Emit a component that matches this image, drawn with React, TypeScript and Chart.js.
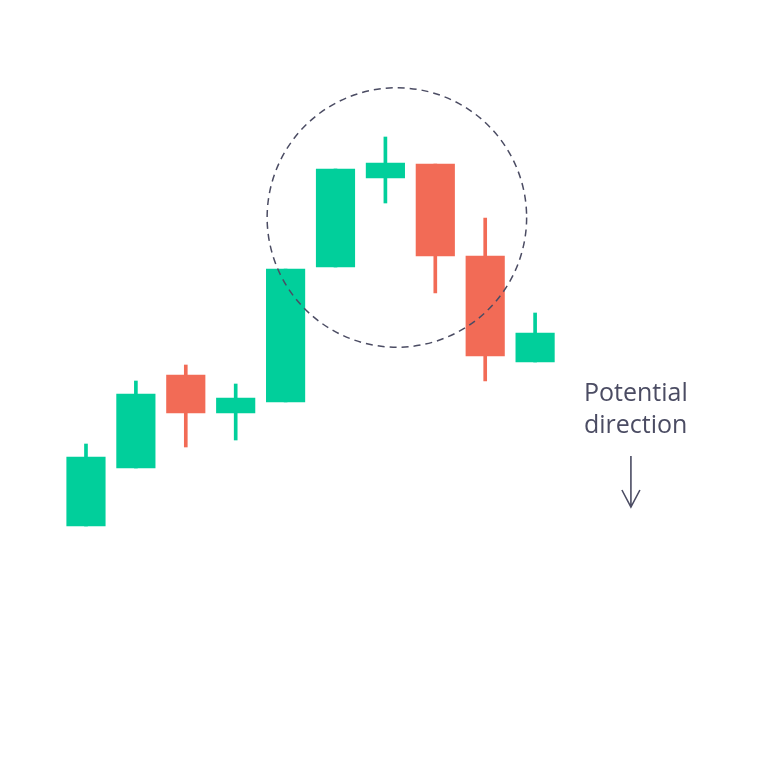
import { useEffect, useRef } from "react";
import { Chart, ChartConfiguration, Plugin, registerables } from "chart.js";

Chart.register(...registerables);

// candle index and OHLC prices
const candles = [0, 1, 2, 3, 4, 5, 6, 7, 8, 9];
const opens = [24.2, 30.0, 39.3, 35.5, 36.6, 50.1, 59.0, 60.4, 51.2, 40.6];
const closes = [31.1, 37.4, 35.5, 37.0, 49.9, 59.9, 60.5, 51.2, 41.2, 43.5];
const highs = [32.4, 38.7, 40.3, 38.4, 49.9, 59.9, 63.1, 60.4, 55.0, 45.5];
const lows = [24.2, 30.0, 32.1, 32.8, 36.6, 50.1, 56.5, 47.5, 38.7, 40.6];

// annotations in data units
const circleCenter = { x: 6.23, y: 55.05 };
const circleRadius = 2.6; // in x units
const labelLines = ["Potential", "direction"];
const labelAnchor = { x: 9.98, y: [36.7, 33.5] };
const arrowFrom = { x: 10.92, y: 31.2 };
const arrowTo = { x: 10.92, y: 26.1 };

const UP = "#01CF9B";
const DOWN = "#F26B56";
const INK = "#4b4c63";

const candleColors = candles.map((_, i) => (closes[i] >= opens[i] ? UP : DOWN));

const annotationPlugin: Plugin = {
  id: "annotations",
  afterDatasetsDraw(chart) {
    const { ctx, scales } = chart;
    const xs = scales.x;
    const ys = scales.y;
    ctx.save();

    // dashed circle
    const cx = xs.getPixelForValue(circleCenter.x);
    const cy = ys.getPixelForValue(circleCenter.y);
    const r = xs.getPixelForValue(circleCenter.x + circleRadius) - cx;
    ctx.beginPath();
    ctx.setLineDash([7, 5]);
    ctx.lineWidth = 1.5;
    ctx.strokeStyle = INK;
    ctx.arc(cx, cy, r, 0, Math.PI * 2);
    ctx.stroke();
    ctx.setLineDash([]);

    // label
    ctx.fillStyle = INK;
    ctx.font = "25px 'Open Sans', sans-serif";
    ctx.textAlign = "left";
    ctx.textBaseline = "alphabetic";
    labelLines.forEach((line, i) => {
      ctx.fillText(line, xs.getPixelForValue(labelAnchor.x), ys.getPixelForValue(labelAnchor.y[i]));
    });

    // arrow
    const ax = xs.getPixelForValue(arrowFrom.x);
    const ay1 = ys.getPixelForValue(arrowFrom.y);
    const ay2 = ys.getPixelForValue(arrowTo.y);
    ctx.lineWidth = 1.6;
    ctx.beginPath();
    ctx.moveTo(ax, ay1);
    ctx.lineTo(ax, ay2);
    ctx.moveTo(ax - 9, ay2 - 17);
    ctx.lineTo(ax, ay2);
    ctx.lineTo(ax + 9, ay2 - 17);
    ctx.stroke();

    ctx.restore();
  },
};

export default function App() {
  const canvasRef = useRef<HTMLCanvasElement>(null);
  const chartRef = useRef<Chart | null>(null);

  useEffect(() => {
    if (!canvasRef.current) return;
    if (chartRef.current) chartRef.current.destroy();

    const ctx = canvasRef.current.getContext("2d");
    if (!ctx) return;

    const config: ChartConfiguration = {
      type: "bar",
      data: {
        datasets: [
          {
            label: "Body",
            data: candles.map((c, i) => ({ x: c, y: [opens[i], closes[i]] })) as any,
            backgroundColor: candleColors,
            borderWidth: 0,
            barThickness: 38.5,
            grouped: false,
            order: 0,
          },
          {
            label: "Wick",
            data: candles.map((c, i) => ({ x: c, y: [lows[i], highs[i]] })) as any,
            backgroundColor: candleColors,
            borderWidth: 0,
            barThickness: 3,
            grouped: false,
            order: 1,
          },
        ],
      },
      options: {
        animation: false,
        responsive: true,
        maintainAspectRatio: false,
        layout: { padding: 0 },
        plugins: {
          legend: { display: false },
          tooltip: { enabled: false },
        },
        scales: {
          x: { type: "linear", min: -1.723, max: 13.667, offset: false, display: false },
          y: { min: 0, max: 76.8, display: false },
        },
      },
      plugins: [annotationPlugin],
    };

    chartRef.current = new Chart(ctx, config);

    return () => {
      if (chartRef.current) {
        chartRef.current.destroy();
        chartRef.current = null;
      }
    };
  }, []);

  return (
    <div style={{ position: "fixed", left: 0, top: 0, width: 768, height: 768, background: "#fff" }}>
      <canvas ref={canvasRef} />
    </div>
  );
}
